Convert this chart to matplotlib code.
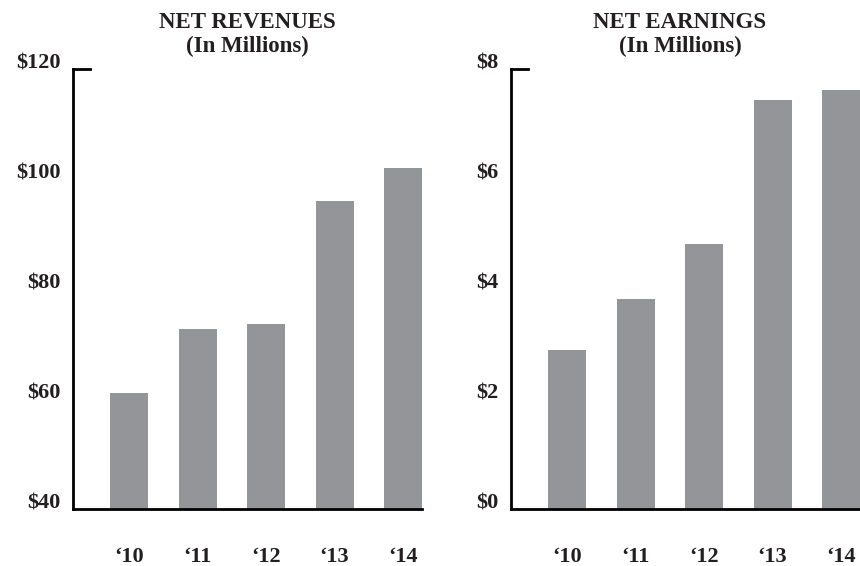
import matplotlib
matplotlib.use("Agg")
import matplotlib.pyplot as plt
import numpy as np

# data
years = ["\u201810", "\u201811", "\u201812", "\u201813", "\u201814"]
revenues = [61.1, 72.7, 73.6, 96.0, 102.0]
earnings = [2.89, 3.82, 4.82, 7.44, 7.62]

rev_ticks = [40, 60, 80, 100, 120]
earn_ticks = [0, 2, 4, 6, 8]

bar_color = "#939598"
text_color = "#231f20"
plt.rcParams["font.family"] = ["Liberation Serif", "DejaVu Serif"]
plt.rcParams["font.weight"] = "bold"

fig = plt.figure(figsize=(8.6, 5.66), dpi=100)

W, H = 860, 566
ax_w = 349 / W
ax_b = (H - 509) / H
ax_h = 440 / H

def draw_panel(ax, values, ticks, title, title_x):
    x = np.arange(len(values))
    ax.bar(x, values, width=0.555, color=bar_color, zorder=1)
    ax.set_xlim(-0.818, 4.277)
    ax.set_ylim(ticks[0], ticks[-1])
    ax.set_yticks(ticks)
    ax.set_yticklabels(["$%d" % t for t in ticks])
    ax.set_xticks(x)
    ax.set_xticklabels(years)
    ax.tick_params(length=0, labelsize=16, colors=text_color)
    ax.tick_params(axis="y", pad=9)
    ax.tick_params(axis="x", pad=27)
    for t in ax.yaxis.get_major_ticks():
        t.label1.set_va("baseline")
    for s in ["left", "bottom", "top"]:
        ax.spines[s].set_linewidth(2)
        ax.spines[s].set_color("black")
    ax.spines["right"].set_visible(False)
    # short cap line at the top of the y axis
    ax.spines["top"].set_bounds(-0.818, -0.818 + 17 / 68.5)
    fig.text(title_x / W, 1 - 22 / H, title, ha="center", va="center",
             fontsize=16.5, color=text_color, fontweight="bold")
    fig.text(title_x / W, 1 - 46 / H, "(In Millions)", ha="center", va="center",
             fontsize=16.5, color=text_color, fontweight="bold")

ax1 = fig.add_axes([73 / W, ax_b, ax_w, ax_h])
ax1.set_facecolor("none")
draw_panel(ax1, revenues, rev_ticks, "NET REVENUES", 247)

ax2 = fig.add_axes([511 / W, ax_b, ax_w, ax_h])
ax2.set_facecolor("none")
draw_panel(ax2, earnings, earn_ticks, "NET EARNINGS", 680)

fig.savefig("out.png", dpi=100)
